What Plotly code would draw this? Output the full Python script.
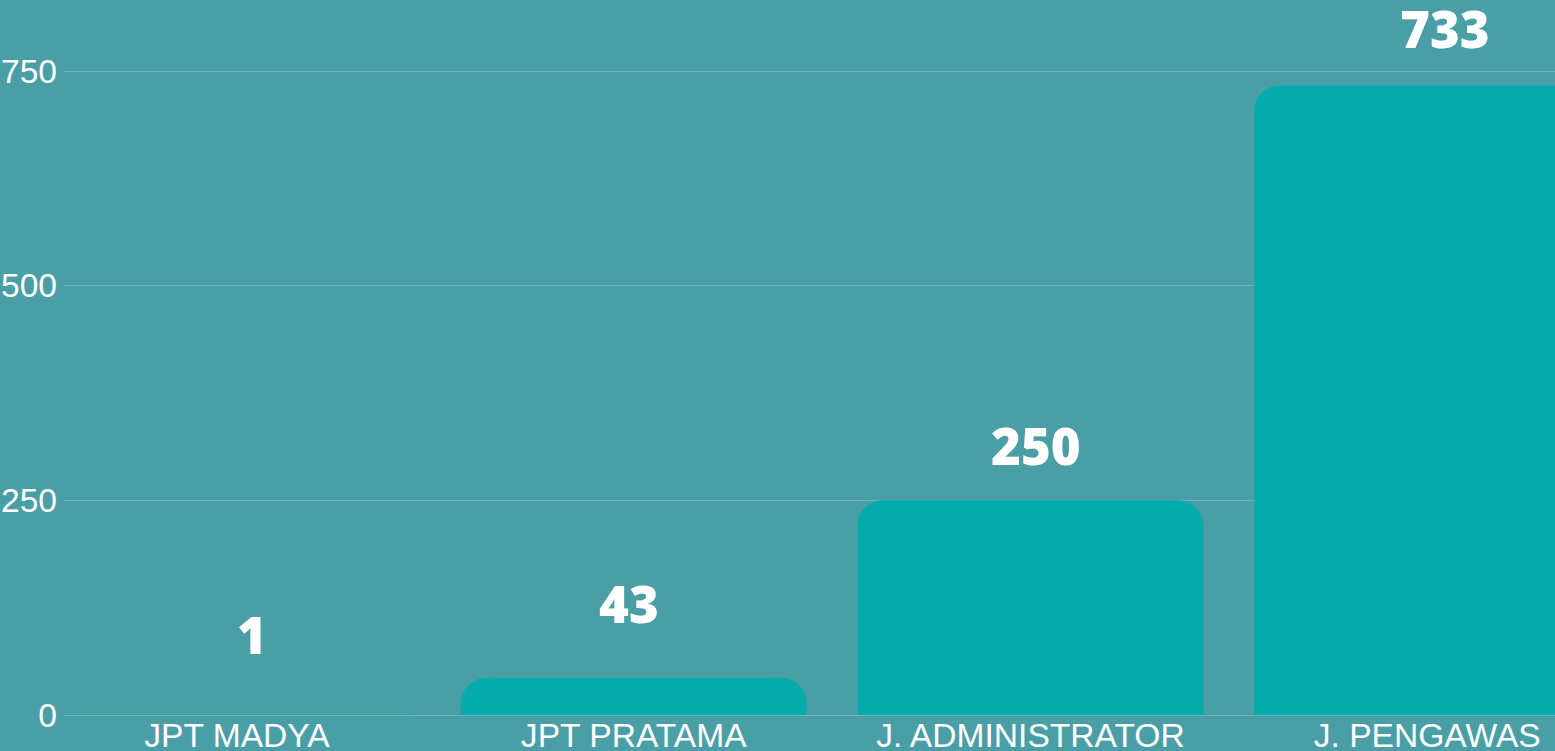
import plotly.graph_objects as go

categories = ["JPT MADYA", "JPT PRATAMA", "J. ADMINISTRATOR", "J. PENGAWAS"]
values = [1, 43, 250, 733]
y_ticks = [0, 250, 500, 750]

# style: pixel nudges of each value label relative to its bar top
label_offsets_px = [43, 38, 18, 21]
label_xshift_px = [15, -5, 6, 18]

BG = "#4A9EA5"
BAR = "#03ABAB"

fig = go.Figure()
fig.add_trace(go.Bar(
    x=categories, y=values,
    marker=dict(color=BAR, line=dict(width=0)),
    hoverinfo="skip",
))

for c, v, off, xs in zip(categories, values, label_offsets_px, label_xshift_px):
    fig.add_annotation(
        x=c, y=v, text=str(v), showarrow=False,
        yanchor="bottom", yshift=off, xshift=xs,
        font=dict(family="Open Sans", size=51, color="white", weight=800),
    )

fig.update_layout(
    width=1555, height=751,
    paper_bgcolor=BG, plot_bgcolor=BG,
    margin=dict(l=64, r=0, t=0, b=36),
    bargap=0.128,
    barcornerradius=25,
    showlegend=False,
    font=dict(family="Liberation Sans, Arial, sans-serif", color="white", size=33.6),
)
fig.update_xaxes(
    range=[-0.436, 3.322], automargin=False,
    showgrid=False, showline=False, zeroline=False, ticks="",
    ticklabelstandoff=-3,
    tickfont=dict(size=33.6, color="white"),
)
fig.update_yaxes(
    range=[0, 832.7], automargin=False,
    tickvals=y_ticks,
    showgrid=True, gridcolor="#6DB5BA", gridwidth=1,
    zeroline=True, zerolinecolor="#6DB5BA", zerolinewidth=1,
    showline=False, ticks="", ticklabelstandoff=6,
    tickfont=dict(size=33.6, color="white"),
)

fig.write_html(
    "out.html",
    config={"displayModeBar": False},
    post_script="document.body.style.margin='0';document.body.style.overflow='hidden';",
)
